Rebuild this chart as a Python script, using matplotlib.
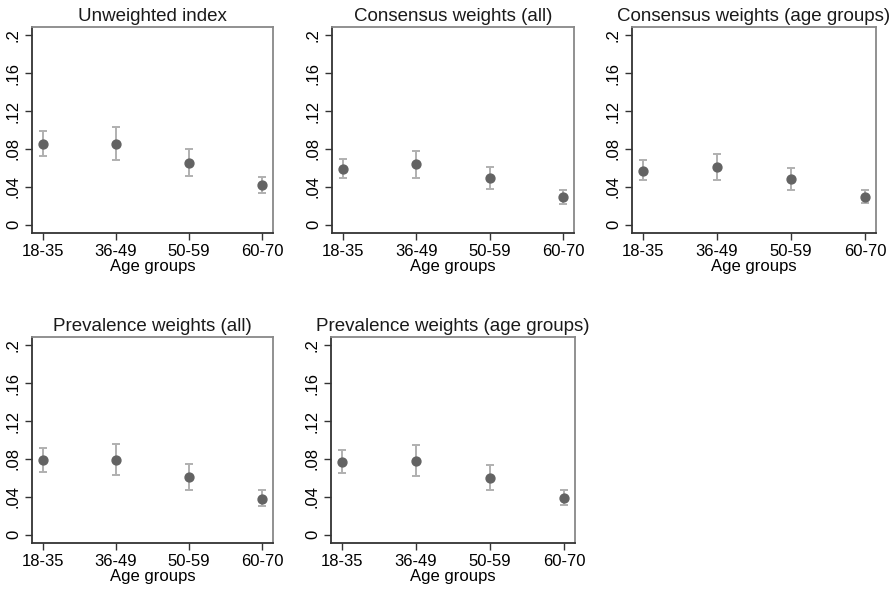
import matplotlib
matplotlib.use("Agg")
import matplotlib.pyplot as plt

plt.rcParams["font.family"] = ["Liberation Sans", "DejaVu Sans"]

age_groups = ["18-35", "36-49", "50-59", "60-70"]
y_ticks = [0, 0.04, 0.08, 0.12, 0.16, 0.2]
y_tick_labels = ["0", ".04", ".08", ".12", ".16", ".2"]

titles = [
    "Unweighted index",
    "Consensus weights (all)",
    "Consensus weights (age groups)",
    "Prevalence weights (all)",
    "Prevalence weights (age groups)",
]

# point estimates and confidence bounds per panel
unweighted = [0.085, 0.085, 0.0656, 0.0418]
unweighted_lo = [0.0727, 0.0684, 0.0518, 0.033]
unweighted_hi = [0.0986, 0.1029, 0.0795, 0.0507]

consensus_all = [0.0592, 0.0638, 0.0489, 0.029]
consensus_all_lo = [0.0489, 0.0497, 0.0376, 0.0223]
consensus_all_hi = [0.0691, 0.078, 0.061, 0.0365]

consensus_age = [0.0566, 0.0609, 0.0485, 0.0294]
consensus_age_lo = [0.0467, 0.0467, 0.0368, 0.0226]
consensus_age_hi = [0.068, 0.0751, 0.0602, 0.0368]

prevalence_all = [0.079, 0.079, 0.0612, 0.038]
prevalence_all_lo = [0.0665, 0.0633, 0.0473, 0.0302]
prevalence_all_hi = [0.0918, 0.0961, 0.0747, 0.047]

prevalence_age = [0.0765, 0.0775, 0.0604, 0.0391]
prevalence_age_lo = [0.0647, 0.0623, 0.0473, 0.031]
prevalence_age_hi = [0.089, 0.0943, 0.074, 0.0476]

panels = [
    (unweighted, unweighted_lo, unweighted_hi),
    (consensus_all, consensus_all_lo, consensus_all_hi),
    (consensus_age, consensus_age_lo, consensus_age_hi),
    (prevalence_all, prevalence_all_lo, prevalence_all_hi),
    (prevalence_age, prevalence_age_lo, prevalence_age_hi),
]

W, H = 894, 590
# axes boxes in pixels: left, top, right, bottom
boxes = [
    (32, 27, 273, 233),
    (332, 27, 574, 233),
    (632, 27, 876, 233),
    (32, 337, 273, 543),
    (331, 337, 575, 543),
]

fig = plt.figure(figsize=(W / 100, H / 100), dpi=100)
x = list(range(1, len(age_groups) + 1))

for (est, lo, hi), title, (l, t, r, b) in zip(panels, titles, boxes):
    ax = fig.add_axes([l / W, 1 - b / H, (r - l) / W, (b - t) / H])
    yerr = [[e - a for e, a in zip(est, lo)], [c - e for e, c in zip(est, hi)]]
    ax.errorbar(x, est, yerr=yerr, fmt="none", ecolor="#b0b0b0",
                elinewidth=1.4, capsize=3.0, capthick=1.4, zorder=2)
    ax.plot(x, est, "o", color="#636363", markersize=6.4, zorder=3)

    ax.set_xlim(0.854, 4.146)
    ax.set_ylim(-0.0088, 0.2089)
    ax.set_xticks(x)
    ax.set_xticklabels(age_groups, fontsize=12)
    ax.set_yticks(y_ticks)
    ax.set_yticklabels(y_tick_labels, fontsize=12, rotation=90, va="center")
    ax.tick_params(length=5, width=1, color="#333333", pad=3)
    ax.set_xlabel("Age groups", fontsize=12, labelpad=0)
    ax.set_title(title, fontsize=13.5, pad=4, color="#1a1a1a")

    for side in ("left", "bottom"):
        ax.spines[side].set_color("#333333")
        ax.spines[side].set_linewidth(1.3)
    for side in ("top", "right"):
        ax.spines[side].set_color("#888888")
        ax.spines[side].set_linewidth(1.3)

fig.savefig("out.png", dpi=100)
